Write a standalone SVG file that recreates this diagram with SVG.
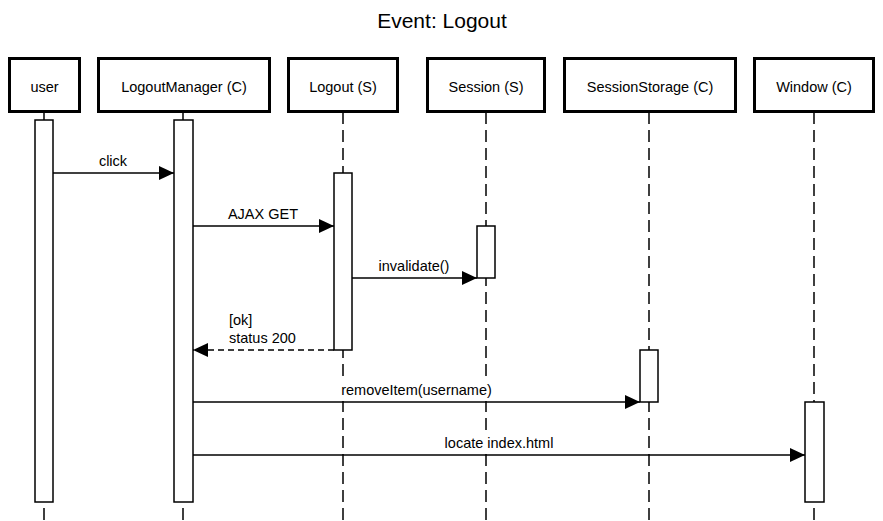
<svg xmlns="http://www.w3.org/2000/svg" width="883" height="521" viewBox="0 0 883 521">
<defs>
<style>
text{font-family:"Liberation Sans",Arial,Helvetica,sans-serif;fill:#000}
.hdr{fill:#fff;stroke:#000;stroke-width:3}
.hl{font-size:14.5px;text-anchor:middle}
.life{stroke:#000;stroke-width:1.5;stroke-dasharray:12 6;fill:none}
.act{fill:#fff;stroke:#000;stroke-width:1.5}
.msg{stroke:#000;stroke-width:1.5;fill:none}
.ret{stroke:#000;stroke-width:1.5;fill:none;stroke-dasharray:6 4}
.ml{font-size:14.5px;text-anchor:middle}
.lbg{fill:#fff}
</style>
<marker id="ah" viewBox="0 0 15 14" refX="15" refY="7" markerWidth="15" markerHeight="14" markerUnits="userSpaceOnUse" orient="auto">
<path d="M0,0 L15,7 L0,14 Z" fill="#000"/>
</marker>
</defs>
<rect width="883" height="521" fill="#fff"/>
<text x="442" y="28" font-size="21px" text-anchor="middle">Event: Logout</text>

<g id="lifelines">
<line class="life" x1="44" y1="112" x2="44" y2="521"/>
<line class="life" x1="183" y1="112" x2="183" y2="521"/>
<line class="life" x1="343" y1="112" x2="343" y2="521"/>
<line class="life" x1="486" y1="112" x2="486" y2="521"/>
<line class="life" x1="649" y1="112" x2="649" y2="521"/>
<line class="life" x1="814" y1="112" x2="814" y2="521"/>
</g>

<g id="user"><rect class="hdr" x="9.5" y="58.5" width="70" height="53"/><text class="hl" x="44.5" y="92">user</text><rect class="act" x="35" y="120" width="18" height="382"/></g>
<g id="logoutmanager"><rect class="hdr" x="98.5" y="58.5" width="171" height="53"/><text class="hl" x="184" y="92">LogoutManager (C)</text><rect class="act" x="174" y="120" width="19" height="382"/></g>
<g id="logout"><rect class="hdr" x="288.5" y="58.5" width="109" height="53"/><text class="hl" x="343" y="92">Logout (S)</text><rect class="act" x="334" y="173" width="18" height="177"/></g>
<g id="session"><rect class="hdr" x="427.5" y="58.5" width="117" height="53"/><text class="hl" x="486" y="92">Session (S)</text><rect class="act" x="477" y="226" width="18" height="52"/></g>
<g id="sessionstorage"><rect class="hdr" x="564.5" y="58.5" width="171" height="53"/><text class="hl" x="650" y="92">SessionStorage (C)</text><rect class="act" x="640" y="350" width="18" height="52"/></g>
<g id="window"><rect class="hdr" x="754.5" y="58.5" width="119" height="53"/><text class="hl" x="814" y="92">Window (C)</text><rect class="act" x="805" y="402" width="19" height="100"/></g>

<g id="connectors">
<line class="msg" x1="53" y1="173" x2="174" y2="173" marker-end="url(#ah)"/>
<text class="ml" x="113" y="166">click</text>
<line class="msg" x1="193" y1="226" x2="334" y2="226" marker-end="url(#ah)"/>
<text class="ml" x="263" y="219">AJAX GET</text>
<line class="msg" x1="352" y1="278" x2="477" y2="278" marker-end="url(#ah)"/>
<text class="ml" x="414" y="271">invalidate()</text>
<line class="ret" x1="334" y1="350" x2="193" y2="350" marker-end="url(#ah)"/>
<text x="229" y="325" font-size="14.5px">[ok]</text>
<text x="229" y="343" font-size="14.5px">status 200</text>
<rect class="lbg" x="336" y="378" width="161" height="23"/>
<line class="msg" x1="193" y1="402" x2="640" y2="402" marker-end="url(#ah)"/>
<text class="ml" x="416.5" y="395">removeItem(username)</text>
<rect class="lbg" x="440" y="431" width="118" height="23"/>
<line class="msg" x1="193" y1="455" x2="805" y2="455" marker-end="url(#ah)"/>
<text class="ml" x="499" y="448">locate index.html</text>
</g>
</svg>
